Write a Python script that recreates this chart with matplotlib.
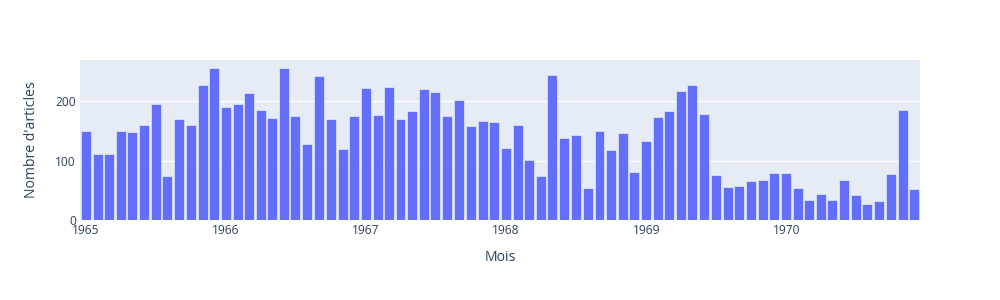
import datetime as dt
import matplotlib
matplotlib.use("Agg")
import matplotlib.pyplot as plt
import matplotlib.dates as mdates

# Monthly article counts, Jan 1965 - Dec 1970
counts = [
    151, 111, 112, 150, 148, 160, 195, 74, 171, 161, 228, 256,
    190, 195, 214, 185, 172, 256, 175, 128, 243, 171, 119, 176,
    222, 177, 225, 171, 184, 221, 216, 175, 203, 159, 167, 165,
    122, 160, 102, 75, 244, 138, 144, 54, 150, 118, 147, 81,
    133, 173, 184, 217, 227, 179, 76, 55, 58, 66, 67, 79,
    79, 54, 34, 44, 34, 68, 42, 27, 32, 78, 185, 53,
]
months = [dt.date(1965 + i // 12, i % 12 + 1, 1) for i in range(len(counts))]
year_ticks = [dt.date(y, 1, 1) for y in range(1965, 1971)]
year_labels = [str(d.year) for d in year_ticks]
y_ticks = [0, 100, 200]

text_color = "#2a3f5f"
plt.rcParams["font.family"] = ["Open Sans", "DejaVu Sans"]

fig = plt.figure(figsize=(10, 3), dpi=100)
ax = fig.add_axes([0.08, 80 / 300, 0.84, 160 / 300])
ax.set_facecolor("#E5ECF6")

x = mdates.date2num(months)
ax.bar(x, counts, width=26, color="#636efa", edgecolor="#E5ECF6",
       linewidth=0.5, zorder=3)

ax.set_xlim(mdates.date2num(dt.date(1964, 12, 16)),
            mdates.date2num(dt.date(1970, 12, 16)))
ax.set_ylim(0, 270)

ax.set_xticks(mdates.date2num(year_ticks))
ax.set_xticklabels(year_labels)
ax.set_yticks(y_ticks)
ax.set_yticklabels([str(v) for v in y_ticks])

ax.grid(axis="y", color="white", linewidth=1, zorder=0)
ax.set_axisbelow(True)
for s in ax.spines.values():
    s.set_visible(False)
ax.tick_params(axis="both", length=0, labelsize=8.64, colors=text_color)
ax.tick_params(axis="x", pad=3)
ax.tick_params(axis="y", pad=3)

ax.set_xlabel("Mois", fontsize=10.08, color=text_color, labelpad=9)
ax.set_ylabel("Nombre d'articles", fontsize=10.08, color=text_color, labelpad=12)

fig.savefig("out.png", dpi=100, facecolor="white")
